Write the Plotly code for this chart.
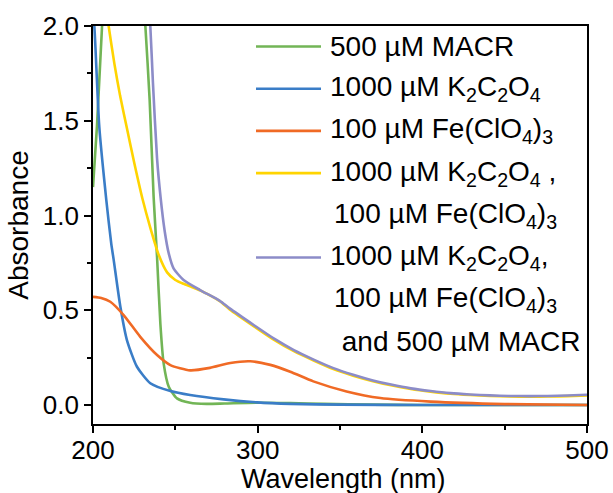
import plotly.graph_objects as go

# UV-vis absorbance spectra (wavelength in nm, absorbance in a.u.)
wl_macr = [200, 202.4, 205.5, 209, 228, 231.8, 234.4, 236.8, 238.9, 240.9, 242.9, 246, 251, 259, 269, 280, 300, 320, 340, 370, 400, 450, 500]
abs_macr = [1.15, 1.47, 2.0, 2.5, 2.5, 2.0, 1.61, 1.10, 0.78, 0.43, 0.22, 0.097, 0.035, 0.012, 0.006, 0.008, 0.012, 0.010, 0.006, 0.002, 0.0, 0.0, 0.0]

wl_ox = [200, 200.8, 203.8, 208.1, 211.1, 212.5, 216.6, 220.6, 226.7, 234.8, 247, 259, 279.3, 299.6, 320, 350, 400, 450, 500]
abs_ox = [2.06, 2.0, 1.47, 1.08, 0.85, 0.77, 0.52, 0.343, 0.202, 0.115, 0.074, 0.053, 0.030, 0.014, 0.006, 0.002, 0.0, 0.0, 0.0]

wl_fe = [200, 205, 210.5, 218.6, 228.7, 238.9, 247, 259, 271, 283.4, 295.5, 307.7, 319.8, 333.8, 354, 374.5, 405, 450, 500]
abs_fe = [0.571, 0.565, 0.545, 0.475, 0.36, 0.264, 0.211, 0.183, 0.196, 0.222, 0.231, 0.212, 0.176, 0.125, 0.072, 0.037, 0.018, 0.005, 0.0]

wl_ox_fe = [205, 209.5, 213, 216.5, 220.6, 225, 230, 235, 240, 245, 250, 255, 260, 265, 277, 283, 298, 310, 322, 334, 346, 358, 370, 381, 393, 405, 417, 429, 441, 453, 465, 476, 488, 500]
abs_ox_fe = [2.3, 2.0, 1.80, 1.63, 1.46, 1.28, 1.09, 0.93, 0.79, 0.70, 0.66, 0.64, 0.623, 0.605, 0.548, 0.505, 0.414, 0.344, 0.284, 0.235, 0.19, 0.155, 0.126, 0.104, 0.085, 0.071, 0.06, 0.053, 0.048, 0.045, 0.044, 0.045, 0.047, 0.051]

wl_all = [231, 234.8, 236.4, 238.9, 241, 243.5, 246, 249, 255, 265, 277, 283, 298, 310, 322, 334, 346, 358, 370, 381, 393, 405, 417, 429, 441, 453, 465, 476, 488, 500]
abs_all = [2.5, 2.0, 1.70, 1.30, 1.10, 0.92, 0.80, 0.72, 0.66, 0.607, 0.55, 0.51, 0.42, 0.35, 0.29, 0.24, 0.195, 0.16, 0.13, 0.108, 0.088, 0.074, 0.063, 0.056, 0.051, 0.048, 0.047, 0.048, 0.050, 0.054]

x_ticks = [200, 300, 400, 500]
y_ticks = [0.0, 0.5, 1.0, 1.5, 2.0]

series = [
    (wl_macr, abs_macr, "#72b556"),
    (wl_ox, abs_ox, "#3a7dc7"),
    (wl_fe, abs_fe, "#f06a25"),
    (wl_ox_fe, abs_ox_fe, "#ffd400"),
    (wl_all, abs_all, "#8c8cc8"),
]

# legend entries: (text lines, colour)
legend_rows = [
    (["500 µM MACR"], "#72b556"),
    (["1000 µM K<sub>2</sub>C<sub>2</sub>O<sub>4</sub>"], "#3a7dc7"),
    (["100 µM Fe(ClO<sub>4</sub>)<sub>3</sub>"], "#f06a25"),
    (["1000 µM K<sub>2</sub>C<sub>2</sub>O<sub>4</sub> ,", "100 µM Fe(ClO<sub>4</sub>)<sub>3</sub>"], "#ffd400"),
    (["1000 µM K<sub>2</sub>C<sub>2</sub>O<sub>4</sub>,", "100 µM Fe(ClO<sub>4</sub>)<sub>3</sub>", " and 500 µM MACR"], "#8c8cc8"),
]

FONT = "Arial, Liberation Sans, sans-serif"
W, H = 613, 493
ML, MR, MT, MB = 93, 26, 26, 69
PW, PH = W - ML - MR, H - MT - MB


def px_to_paper(px, py):
    return (px - ML) / PW, (H - MB - py) / PH


fig = go.Figure()
for xs, ys, col in series:
    fig.add_trace(go.Scatter(x=xs, y=ys, mode="lines",
                             line=dict(color=col, width=2.6, shape="spline", smoothing=0.6),
                             showlegend=False, hoverinfo="skip"))

shapes, annotations = [], []
row_y = 46.5
row_step = 42.2
for lines, col in legend_rows:
    x0, y0 = px_to_paper(256, row_y)
    x1, _ = px_to_paper(321, row_y)
    shapes.append(dict(type="line", xref="paper", yref="paper", x0=x0, x1=x1, y0=y0, y1=y0,
                       line=dict(color=col, width=2.6)))
    for i, txt in enumerate(lines):
        indent = 0 if i == 0 else 4
        tx, ty = px_to_paper(328 + indent, row_y)
        annotations.append(dict(text=txt, xref="paper", yref="paper", x=tx, y=ty,
                                xanchor="left", yanchor="middle", showarrow=False,
                                font=dict(family=FONT, size=28, color="black")))
        row_y += row_step

# x-axis title, placed along the bottom edge of the page (descenders run off the edge)
tx, ty = px_to_paper(ML + PW / 2 + 3, H + 3)
annotations.append(dict(text="Wavelength (nm)", xref="paper", yref="paper", x=tx, y=ty,
                        xanchor="center", yanchor="bottom", showarrow=False,
                        font=dict(family=FONT, size=27, color="black")))

axis_common = dict(showline=True, linecolor="black", linewidth=1.6, mirror=True,
                   ticks="outside", tickcolor="black", tickwidth=1.6, ticklen=7,
                   showgrid=False, zeroline=False, automargin=False,
                   tickfont=dict(family=FONT, size=26, color="black"))

fig.update_layout(
    width=W, height=H,
    margin=dict(l=ML, r=MR, t=MT, b=MB),
    paper_bgcolor="white", plot_bgcolor="white",
    shapes=shapes, annotations=annotations,
    xaxis=dict(range=[200, 500], tickvals=x_ticks, ticklabelstandoff=-5,
               minor=dict(dtick=50, ticks="outside", ticklen=4, tickcolor="black", tickwidth=1.6),
               **axis_common),
    yaxis=dict(range=[-0.1, 2.0], tickvals=y_ticks, tickformat=".1f",
               minor=dict(dtick=0.25, tick0=0, ticks="outside", ticklen=4, tickcolor="black", tickwidth=1.6),
               title=dict(text="Absorbance", font=dict(family=FONT, size=28, color="black"), standoff=6),
               **axis_common),
)

fig.write_html("out.html")
